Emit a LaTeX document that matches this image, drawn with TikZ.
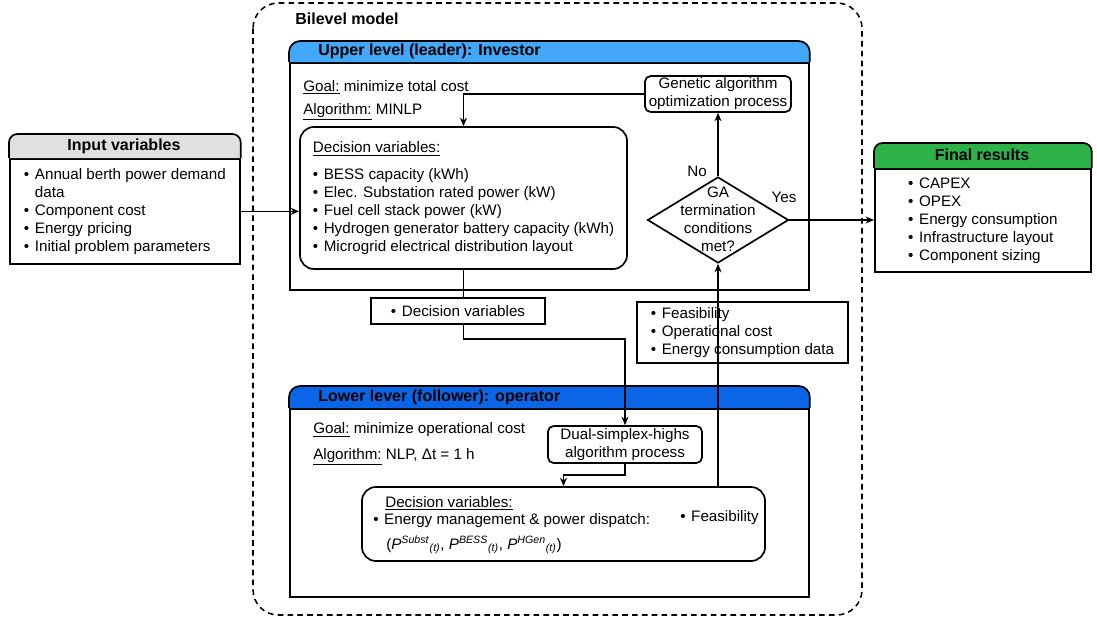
\documentclass[tikz,border=0pt]{standalone}
\usepackage{fontspec}
\setmainfont{Liberation Sans}
\usepackage{tikz}
\usetikzlibrary{arrows,arrows.meta,positioning,shapes.geometric}

\definecolor{upblue}{RGB}{68,168,248}
\definecolor{lowblue}{RGB}{10,102,230}
\definecolor{resgreen}{RGB}{44,178,72}
\definecolor{ingray}{RGB}{224,224,224}
\newcommand{\bul}{\textbullet\hspace{4pt}}

\begin{document}
\begin{tikzpicture}[
  x=0.025cm, y=-0.025cm,
  every node/.style={font=\fontsize{10.8}{12.8}\selectfont, inner sep=0pt},
  head/.style={font=\fontsize{11.4}{13}\selectfont\bfseries},
  panel/.style={draw, line width=1.2pt, fill=white, rectangle, anchor=north west, align=left},
  box/.style={draw, line width=1.2pt, rounded corners=4pt, align=center},
  rbox/.style={draw, line width=1.2pt, rounded corners=10pt, align=left},
  plain/.style={draw, line width=1.2pt, align=left},
  link/.style={draw, line width=1pt, -{Stealth[length=6pt, width=5pt]}}
]
\useasboundingbox (0,0) rectangle (1097,619);

% bilevel frame
\draw[line width=1.1pt, dash pattern=on 4pt off 3pt, rounded corners=18pt] (253,3) rectangle (862,615);
\node[head, anchor=west] (bilevel) at (295,19) {Bilevel model};

% input variables
\node[panel, minimum width=5.75cm, minimum height=2.625cm] (inbody) at (9,158)
  {\bul Annual berth power demand\\\phantom{\bul}data\\\bul Component cost\\\bul Energy pricing\\\bul Initial problem parameters};
\draw[line width=1.2pt, fill=ingray, rounded corners=6pt] (inbody.north west) -- ++(0,-24) -| (inbody.north east);
\node[head] (intitle) at (124,146) {Input variables};

% final results
\node[panel, minimum width=5.4cm, minimum height=2.575cm] (finbody) at (874,168)
  {\bul CAPEX\\\bul OPEX\\\bul Energy consumption\\\bul Infrastructure layout\\\bul Component sizing};
\draw[line width=1.2pt, fill=resgreen, rounded corners=6pt] (finbody.north west) -- ++(0,-25) -| (finbody.north east);
\node[head] (fintitle) at (982,155) {Final results};

% upper level
\node[panel, minimum width=12.975cm, minimum height=5.675cm] (upbody) at (289,62) {};
\draw[line width=1.2pt, fill=upblue, rounded corners=8pt] (upbody.north west) -- ++(0,-21) -| (upbody.north east);
\node[head, anchor=west] (uptitle) at (318,51) {Upper level (leader): Investor};
\node[anchor=west] (upgoal) at (303,87) {\underline{Goal:} minimize total cost};
\node[anchor=west] (upalgo) at (303,112) {\underline{Algorithm:} MINLP};
\node[box, minimum width=3.65cm, minimum height=0.9cm] (gabox) at (718,94) {Genetic algorithm\\optimization process};
\node[rbox, minimum width=8.175cm, minimum height=3.55cm] (updec) at (463.5,198)
  {\underline{Decision variables:}\\[6pt]\bul BESS capacity (kWh)\\\bul Elec. Substation rated power (kW)\\\bul Fuel cell stack power (kW)\\\bul Hydrogen generator battery capacity (kWh)\\\bul Microgrid electrical distribution layout};
\node[diamond, draw, line width=1.2pt, minimum width=3.525cm, minimum height=2.15cm] (gacheck) at (718,220) {};
\node[align=center] (gatext) at (718,219) {GA\\termination\\conditions\\met?};
\node (nolbl) at (697,171) {No};
\node (yeslbl) at (784,197) {Yes};

% exchanged data
\node[plain, minimum width=4.35cm, minimum height=0.65cm] (dvbox) at (458,311) {\bul Decision variables};
\node[plain, minimum width=5.275cm, minimum height=1.525cm] (fsbox) at (742.5,332.5)
  {\bul Feasibility\\\bul Operational cost\\\bul Energy consumption data};

% lower level
\node[panel, minimum width=12.975cm, minimum height=4.7cm] (lowbody) at (289,408) {};
\draw[line width=1.2pt, fill=lowblue, rounded corners=8pt] (lowbody.north west) -- ++(0,-22) -| (lowbody.north east);
\node[head, anchor=west] (lowtitle) at (318,397) {Lower lever (follower): operator};
\node[anchor=west] (lowgoal) at (313,430) {\underline{Goal:} minimize operational cost};
\node[anchor=west] (lowalgo) at (313,457) {\underline{Algorithm:} NLP, Δt = 1 h};
\node[box, minimum width=3.85cm, minimum height=0.925cm] (dsbox) at (625,444.5) {Dual-simplex-highs\\algorithm process};
\node[rbox, minimum width=10.075cm, minimum height=1.85cm] (lodec) at (563.5,524) {};
\node[anchor=west] (lodectitle) at (385,503) {\underline{Decision variables:}};
\node[anchor=west] (loitem) at (373,521) {\bul Energy management \& power dispatch:};
\node[anchor=west] (lopower) at (386,545) {(\textit{P}\textsuperscript{\textit{Subst}}\textsubscript{\textit{(t)}}, \textit{P}\textsuperscript{\textit{BESS}}\textsubscript{\textit{(t)}}, \textit{P}\textsuperscript{\textit{HGen}}\textsubscript{\textit{(t)}})};
\node[anchor=west] (lofeas) at (680,518) {\bul Feasibility};

% connectors
\draw[link] (inbody.east) -- (inbody.east -| updec.west);
\draw[link] (gabox.west) -| (updec.north);
\draw[link] (gacheck.north) -- (gabox.south);
\draw[link] (gacheck.east) -- (gacheck.east -| finbody.west);
\draw[line width=1pt] (updec.south) -- (updec.south |- dvbox.north);
\draw[link] (updec.south |- dvbox.south) -- ++(0,14) -| (dsbox.north);
\draw[link] (dsbox.south) -- ++(0,11) -| (lodec.north);
\draw[link] (gacheck.south |- lodec.north) -- (gacheck.south);
\end{tikzpicture}
\end{document}
